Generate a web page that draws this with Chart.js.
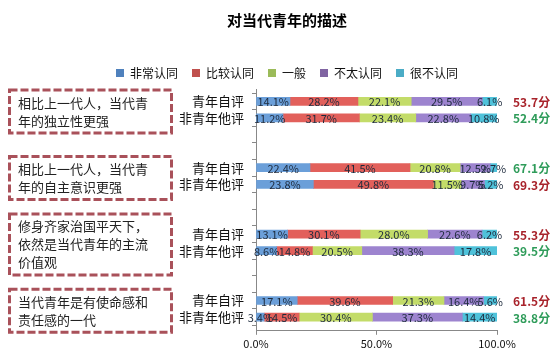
<!DOCTYPE html>
<html>
<head>
<meta charset="utf-8">
<script src="https://cdn.jsdelivr.net/npm/chart.js@4/dist/chart.umd.min.js"></script>
<style>
  html, body { margin: 0; padding: 0; background: #fff; }
  #wrap { width: 558px; height: 360px; }
</style>
</head>
<body>
<div id="wrap"><canvas id="myChart" width="558" height="360"></canvas></div>
<script>
const groups = ['青年自评', '非青年他评'];
const statements = [
    ['相比上一代人，当代青', '年的独立性更强'],
    ['相比上一代人，当代青', '年的自主意识更强'],
    ['修身齐家治国平天下，', '依然是当代青年的主流', '价值观'],
    ['当代青年是有使命感和', '责任感的一代']
];
const seriesNames = ['非常认同', '比较认同', '一般', '不太认同', '很不认同'];
const veryAgree = [14.1, 11.2, 22.4, 23.8, 13.1, 8.6, 17.1, 3.4];
const agree = [28.2, 31.7, 41.5, 49.8, 30.1, 14.8, 39.6, 14.5];
const neutral = [22.1, 23.4, 20.8, 11.5, 28.0, 20.5, 21.3, 30.4];
const disagree = [29.5, 22.8, 12.5, 9.7, 22.6, 38.3, 16.4, 37.3];
const stronglyDisagree = [6.1, 10.8, 2.7, 5.2, 6.2, 17.8, 5.6, 14.4];
const scores = [53.7, 52.4, 67.1, 69.3, 55.3, 39.5, 61.5, 38.8];
const xTicks = [0, 50, 100];

const colors = ['#6b9fd9', '#e2605b', '#c3dc69', '#9d84cf', '#4fc2da'];
const legendColors = ['#4f81bd', '#c0504d', '#9bbb59', '#8064a2', '#4bacc6'];
const FONT = '"Noto Sans CJK SC", "Noto Sans", sans-serif';

// 4 groups of 2 bars, two empty slots between groups
const labels = [];
const slotOf = [];
statements.forEach((s, g) => {
    groups.forEach((name) => {
        slotOf.push(labels.length);
        labels.push(name);
    });
    if (g < statements.length - 1) labels.push('', '');
});

const allSeries = [veryAgree, agree, neutral, disagree, stronglyDisagree];

const overlayPlugin = {
    id: 'overlay',
    afterDatasetsDraw(chart) {
        const ctx = chart.ctx;
        const xs = chart.scales.x;
        const ys = chart.scales.y;
        ctx.save();

        // value labels inside segments
        ctx.font = '11px ' + FONT;
        ctx.fillStyle = '#1d2a3c';
        ctx.textAlign = 'center';
        ctx.textBaseline = 'middle';
        chart.data.datasets.forEach((ds, di) => {
            chart.getDatasetMeta(di).data.forEach((bar, i) => {
                const v = ds.data[i].x;
                ctx.fillText(v.toFixed(1) + '%', (bar.base + bar.x) / 2, bar.y + 1);
            });
        });

        // scores on the right
        ctx.font = 'bold 12px ' + FONT;
        ctx.textAlign = 'left';
        scores.forEach((s, i) => {
            const pair = scores[i ^ 1];
            ctx.fillStyle = s >= pair ? '#a8232b' : '#2f9c5a';
            ctx.fillText(s.toFixed(1) + '分', xs.right + 16, ys.getPixelForValue(slotOf[i]) + 1);
        });

        // statement boxes on the left
        statements.forEach((lines, g) => {
            const cy = (ys.getPixelForValue(slotOf[g * 2]) + ys.getPixelForValue(slotOf[g * 2 + 1])) / 2 + 2;
            const h = lines.length * 18 + 7;
            ctx.strokeStyle = '#a9515a';
            ctx.lineWidth = 3;
            ctx.setLineDash([8, 3]);
            ctx.strokeRect(9.5, cy - h / 2, 162, h);
            ctx.setLineDash([]);
            ctx.fillStyle = '#222';
            ctx.font = '13px ' + FONT;
            ctx.textAlign = 'left';
            lines.forEach((t, li) => {
                ctx.fillText(t, 18, cy - (lines.length - 1) * 9 + li * 18);
            });
        });
        ctx.restore();
    }
};

const chart = new Chart(document.getElementById('myChart').getContext('2d'), {
    type: 'bar',
    data: {
        datasets: seriesNames.map((name, i) => ({
            label: name,
            data: allSeries[i].map((v, j) => ({ x: v, y: slotOf[j] })),
            backgroundColor: colors[i],
            stack: 'all',
            barThickness: 8
        }))
    },
    options: {
        indexAxis: 'y',
        responsive: false,
        animation: false,
        layout: { padding: { left: 77, right: 61, top: 0, bottom: 8 } },
        plugins: {
            title: {
                display: true,
                text: '对当代青年的描述',
                color: '#000',
                font: { family: FONT, size: 15, weight: 'bold' },
                padding: { top: 11, bottom: 24 }
            },
            legend: {
                display: true,
                labels: {
                    boxWidth: 8,
                    boxHeight: 8,
                    padding: 14,
                    color: '#111',
                    font: { family: FONT, size: 12 },
                    generateLabels: (c) => Chart.defaults.plugins.legend.labels.generateLabels(c)
                        .map((l, i) => Object.assign(l, { fillStyle: legendColors[i], strokeStyle: legendColors[i], lineWidth: 0 }))
                }
            },
            tooltip: { enabled: false }
        },
        scales: {
            x: {
                stacked: true,
                min: xTicks[0],
                max: xTicks[xTicks.length - 1],
                afterBuildTicks: (scale) => { scale.ticks = xTicks.map(v => ({ value: v })); },
                grid: { drawOnChartArea: false, tickLength: 4, color: '#888' },
                border: { color: '#888' },
                ticks: {
                    padding: 2,
                    color: '#111',
                    font: { family: FONT, size: 11 },
                    callback: v => v.toFixed(1) + '%'
                }
            },
            y: {
                type: 'linear',
                reverse: true,
                offset: false,
                min: -0.5,
                max: labels.length - 0.5,
                afterBuildTicks: (scale) => { scale.ticks = labels.map((l, i) => ({ value: i })); },
                afterFit: (scale) => { scale.width = 179; },
                grid: { drawOnChartArea: false, tickLength: 4, color: '#888', offset: true },
                border: { color: '#888' },
                ticks: {
                    padding: 8,
                    color: '#111',
                    autoSkip: false,
                    font: { family: FONT, size: 13 },
                    callback: v => labels[v] || ''
                }
            }
        }
    },
    plugins: [overlayPlugin]
});

// place the rows where the reference has them: first row centre ~101px, step ~16.6px
const area = chart.chartArea;
const step = 16.6, firstRow = 101.3;
chart.options.scales.y.min = -(firstRow - area.top) / step;
chart.options.scales.y.max = (area.bottom - firstRow) / step;
chart.update();
</script>
</body>
</html>
